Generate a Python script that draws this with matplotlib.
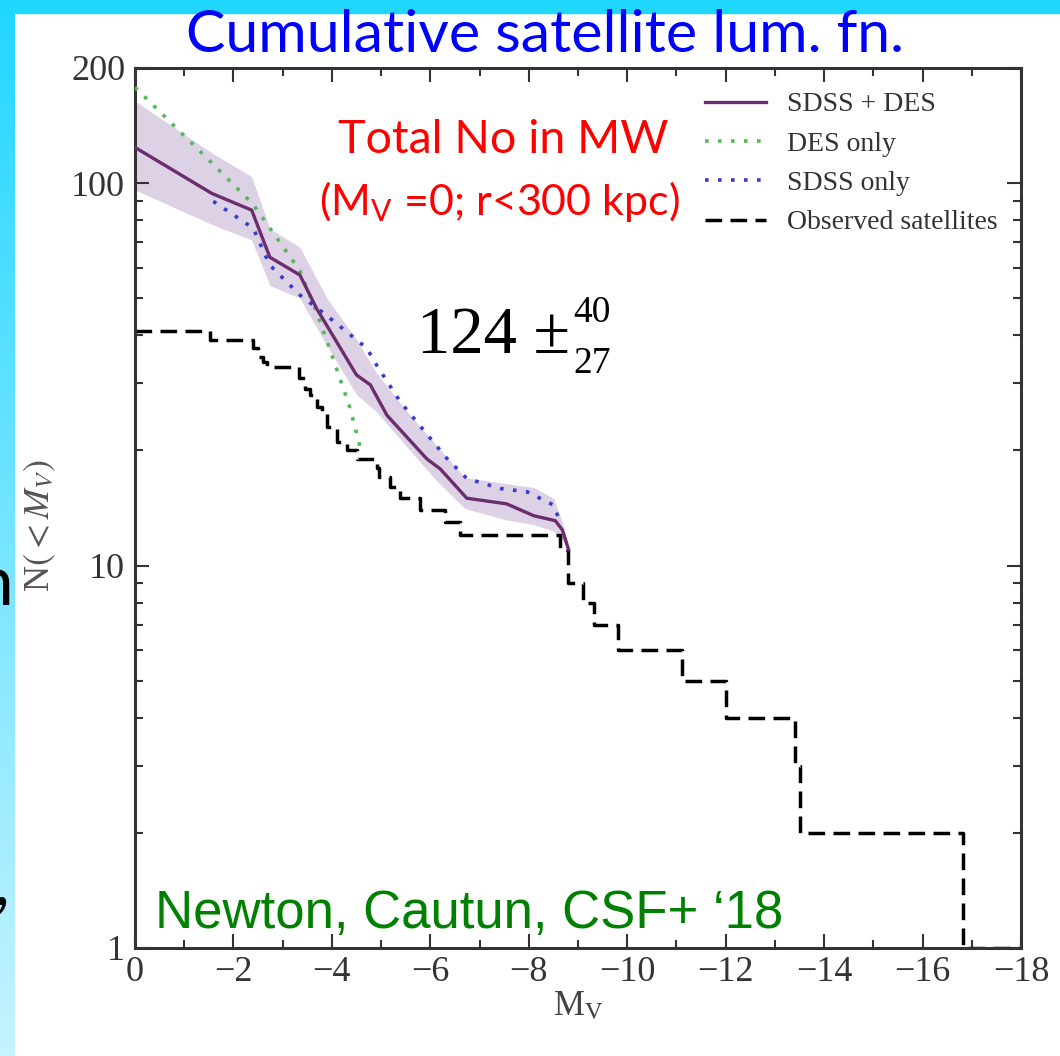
import numpy as np
import matplotlib.pyplot as plt
from matplotlib.colors import LinearSegmentedColormap
from matplotlib.patches import Rectangle
from matplotlib.ticker import LogLocator, NullFormatter

W, H = 1060, 1056

# observed MW satellites, cumulative N(<M_V) as a staircase (step edges in M_V)
obs_mv = [0, -1.52, -2.40, -2.50, -2.60, -2.68, -3.33, -3.46, -3.56, -3.69, -3.79,
          -3.90, -4.10, -4.30, -4.51, -4.91, -4.96, -5.18, -5.39, -5.79, -6.30, -6.61,
          -8.64, -8.80, -9.11, -9.32, -9.82, -11.11, -12.01, -13.41, -13.52, -16.82, -18.0]
obs_n = [41, 39, 37, 35, 34, 33, 31, 29, 28, 26, 25,
         23, 21, 20, 19, 18, 17, 16, 15, 14, 13, 12,
         11, 9, 8, 7, 6, 5, 4, 3, 2, 1, 1]

# SDSS + DES estimate (median)
comb_mv = [0, -1.56, -2.37, -2.74, -3.35, -3.69, -4.50, -4.78, -5.12, -5.93, -6.20,
           -6.74, -7.55, -8.10, -8.54, -8.68, -8.81]
comb_n = [124, 94, 85, 64, 57.5, 47, 31.5, 29.7, 24.7, 19.0, 17.9,
          15.0, 14.5, 13.5, 13.1, 12.4, 11.0]

# SDSS + DES uncertainty band
band_mv = [0, -1.56, -2.37, -2.74, -3.35, -3.90, -4.50, -4.90, -5.50, -6.10, -6.70,
           -7.50, -8.10, -8.50, -8.70, -8.81]
band_hi = [164, 120, 104, 76, 68, 50, 39, 32, 25.5, 20.8, 17.0,
           16.4, 16.0, 15.0, 12.8, 11.2]
band_lo = [96, 78, 71, 54, 50, 37.6, 28, 25.3, 20.6, 16.8, 14.1,
           13.2, 12.8, 12.3, 11.6, 10.8]

# DES only
des_mv = [0, -1.59, -2.40, -3.35, -3.69, -4.03, -4.37, -4.57]
des_n = [178, 112, 88, 59, 46, 34.6, 25.8, 20.5]

# SDSS only
sdss_mv = [-1.59, -2.40, -2.74, -3.35, -3.90, -4.71, -4.91, -5.39, -6.33, -6.74,
           -7.42, -7.96, -8.50, -8.64]
sdss_n = [89.6, 76.3, 61, 51, 45, 37, 33.4, 26.8, 19.1, 16.9,
          15.9, 15.6, 14.4, 13.0]

xticks = list(range(0, -19, -2))
xticklabels = ["0"] + [f"\u2212{v}" for v in range(2, 19, 2)]
yticks = [1, 10, 100, 200]
yticklabels = ["1", "10", "100", "200"]
legend_labels = ["SDSS + DES", "DES only", "SDSS only", "Observed satellites"]

purple = "#6c2d6e"
band_col = "#ddd1e5"
green = "#55b955"
blue = "#3a3ad0"
ink = "#333333"

plt.rcParams["font.family"] = "Liberation Serif"
plt.rcParams["mathtext.fontset"] = "custom"
plt.rcParams["mathtext.rm"] = "Lato"
plt.rcParams["mathtext.it"] = "Lato:italic"

fig = plt.figure(figsize=(W / 100, H / 100), dpi=100)

# slide backdrop: gradient strip on the left, flat band on top
grad = LinearSegmentedColormap.from_list("slide", ["#22d6ff", "#c6f3ff"])
bg = fig.add_axes([0, 0, 15 / W, 1])
bg.imshow(np.linspace(0, 1, 256)[:, None], aspect="auto", cmap=grad,
          extent=[0, 1, 0, 1], origin="upper")
bg.axis("off")
fig.patches.append(Rectangle((0, 1 - 13 / H), 1, 13 / H, transform=fig.transFigure,
                             color="#20d7ff", zorder=0))

ax = fig.add_axes([135 / W, 1 - 948 / H, 886 / W, 880 / H])
ax.set_yscale("log")

ax.fill_between(band_mv, band_lo, band_hi, color=band_col, lw=0, zorder=1)
l_obs, = ax.step(obs_mv, obs_n, where="post", color="black", lw=2.5,
                 ls=(0, (4.8, 2.4)), zorder=2)
l_des, = ax.plot(des_mv, des_n, color=green, lw=2.6, ls=(0, (1, 2.6)), zorder=3)
l_sdss, = ax.plot(sdss_mv, sdss_n, color=blue, lw=2.6, ls=(0, (1, 2.6)), zorder=3)
l_comb, = ax.plot(comb_mv, comb_n, color=purple, lw=2.4, zorder=4)

ax.set_xlim(0, -18)
ax.set_ylim(1, 200)
ax.set_xticks(xticks)
ax.set_xticklabels(xticklabels)
ax.set_xticks(range(-1, -18, -2), minor=True)
ax.set_yticks(yticks)
ax.set_yticklabels(yticklabels)
ax.yaxis.set_minor_locator(LogLocator(subs=range(2, 10)))
ax.yaxis.set_minor_formatter(NullFormatter())
ax.tick_params(which="both", direction="in", top=True, right=True, color=ink,
               width=1.5, labelcolor=ink, labelsize=26)
ax.tick_params(which="major", length=10)
ax.tick_params(which="minor", length=6)
ax.tick_params(axis="y", pad=7)
ax.tick_params(axis="x", pad=6)
for s in ax.spines.values():
    s.set_color(ink)
    s.set_linewidth(2.2)

ax.set_xlabel(r"M$_\mathrm{V}$", fontsize=25, color="#444444", math_fontfamily="stix")
ax.xaxis.set_label_coords(0.5, -0.048)
ax.set_ylabel(r"N$(<M_V)$", fontsize=26, color="#555555", math_fontfamily="stix")
ax.yaxis.set_label_coords(-0.087, 0.48)

ax.legend([l_comb, l_des, l_sdss, l_obs], legend_labels, loc="upper left",
          bbox_to_anchor=(705 / W, 1 - 92 / H), bbox_transform=fig.transFigure,
          frameon=False, prop={"family": "Liberation Serif", "size": 20},
          labelcolor=ink, handlelength=2.2, handletextpad=0.75, labelspacing=0.5,
          borderpad=0, borderaxespad=0)

# slide annotations
fig.text(545 / W, 1 - 52 / H, "Cumulative satellite lum. fn.", ha="center",
         va="baseline", color="#0000ff", family="Lato", size=42.5)
fig.text(503 / W, 1 - 153 / H, "Total No in MW", ha="center", va="baseline",
         color="#ff0000", family="Lato", size=33.5)
fig.text(499 / W, 1 - 215 / H, r"(M$_\mathrm{V}$ =0; r<300 kpc)", ha="center",
         va="baseline", color="#ff0000", family="Lato", size=31)
fig.text(417 / W, 1 - 353 / H, "124 \u00b1", va="baseline", color="black",
         family="Liberation Serif", size=48)
fig.text(573 / W, 1 - 322 / H, "40", va="baseline", color="black",
         family="Liberation Serif", size=27)
fig.text(573 / W, 1 - 373 / H, "27", va="baseline", color="black",
         family="Liberation Serif", size=27)
fig.text(155 / W, 1 - 928 / H, "Newton, Cautun, CSF+ \u201818", va="baseline",
         color="#008000", family="Liberation Sans", size=38)

# clipped text from the slide behind the figure
fig.text(13 / W, 1 - 605 / H, "n", ha="right", va="baseline", color="black",
         family="Lato", size=50)
fig.text(9 / W, 1 - 905 / H, ",", ha="right", va="baseline", color="black",
         family="Lato", size=50)

fig.savefig("out.png", dpi=100)
